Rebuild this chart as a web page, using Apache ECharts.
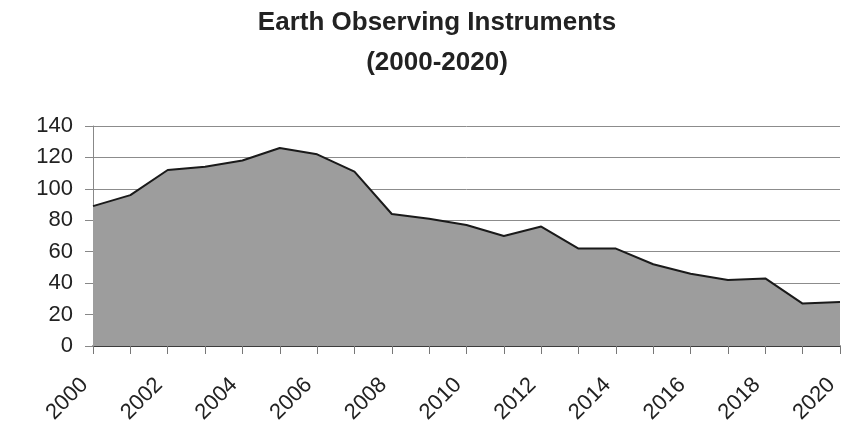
<!DOCTYPE html>
<html>
<head>
<meta charset="utf-8">
<script src="https://cdn.jsdelivr.net/npm/echarts@6/dist/echarts.min.js"></script>
<style>html,body{margin:0;padding:0;background:#fff;}#c{width:841px;height:431px;}</style>
</head>
<body>
<div id="c"></div>
<script>
var years = ['2000','2001','2002','2003','2004','2005','2006','2007','2008','2009','2010','2011','2012','2013','2014','2015','2016','2017','2018','2019','2020'];
var instruments = [89, 96, 112, 114, 118, 126, 122, 111, 84, 81, 77, 70, 76, 62, 62, 52, 46, 42, 43, 27, 28];
var yTicks = [0, 20, 40, 60, 80, 100, 120, 140];

var chart = echarts.init(document.getElementById('c'), null, {renderer: 'canvas'});
chart.setOption({
  backgroundColor: '#ffffff',
  animation: false,
  title: {
    text: 'Earth Observing Instruments\n(2000-2020)',
    left: 437,
    top: 3,
    padding: 0,
    textAlign: 'center',
    textStyle: {
      fontFamily: 'Liberation Sans, Arial, sans-serif',
      fontSize: 26,
      fontWeight: 'bold',
      color: '#222',
      lineHeight: 40
    }
  },
  grid: {left: 93, right: 1, top: 126, bottom: 85, containLabel: false, outerBoundsMode: 'none'},
  xAxis: {
    type: 'category',
    data: years,
    boundaryGap: false,
    axisLine: {show: true, lineStyle: {color: '#222', width: 1.5}},
    axisTick: {show: true, interval: 0, length: 8, lineStyle: {color: '#777'}},
    axisLabel: {
      interval: 1,
      rotate: 45,
      margin: 27,
      padding: [0, 12, 0, 0],
      fontFamily: 'Liberation Sans, Arial, sans-serif',
      fontSize: 22,
      color: '#222'
    },
    splitLine: {show: false}
  },
  yAxis: {
    type: 'value',
    min: yTicks[0],
    max: yTicks[yTicks.length - 1],
    interval: 20,
    axisLine: {show: true, lineStyle: {color: '#888', width: 1}},
    axisTick: {show: true, length: 8, lineStyle: {color: '#888'}},
    axisLabel: {
      margin: 20,
      fontFamily: 'Liberation Sans, Arial, sans-serif',
      fontSize: 22,
      color: '#222'
    },
    splitLine: {show: true, lineStyle: {color: '#8c8c8c', width: 1}}
  },
  series: [{
    type: 'line',
    data: instruments,
    symbol: 'none',
    lineStyle: {color: '#1a1a1a', width: 2},
    areaStyle: {color: '#9d9d9d', opacity: 1},
    z: 3
  }]
});
</script>
</body>
</html>
